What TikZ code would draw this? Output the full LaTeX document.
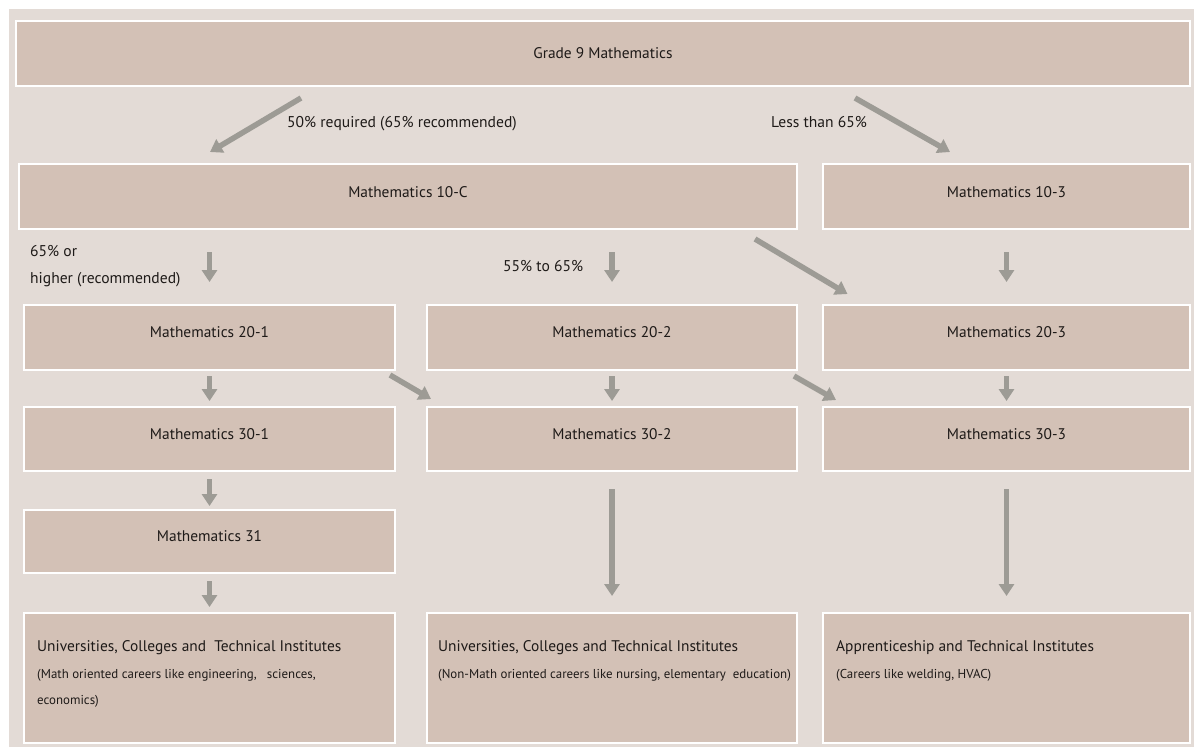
\documentclass[tikz,border=0pt]{standalone}
\usepackage{fontspec}
\setmainfont{PT Sans}
\usetikzlibrary{arrows.meta}
\definecolor{bgc}{HTML}{E3DBD6}
\definecolor{boxc}{HTML}{D3C1B6}
\definecolor{arrc}{HTML}{9D9B95}
\definecolor{txtc}{HTML}{1E1A18}
\begin{document}
\begin{tikzpicture}[x=1pt,y=-1pt,
  box/.style={draw=white,line width=2pt,fill=boxc,inner sep=0pt,
    text height=9pt,text depth=9pt,text=txtc,font=\fontsize{15.4}{17}\selectfont},
  arr/.style={draw=arrc,line width=5.5pt,-{Triangle[width=15pt,length=12pt]}},
  lbl/.style={inner sep=0pt,anchor=base west,text=txtc,font=\fontsize{15.6}{17}\selectfont},
  ttl/.style={inner sep=0pt,anchor=base west,text=txtc,font=\fontsize{15.4}{17}\selectfont},
  sub/.style={inner sep=0pt,anchor=base west,text=txtc,font=\fontsize{12.9}{15}\selectfont}]
\useasboundingbox (0,0) rectangle (1194,747);
\fill[white] (0,0) rectangle (1194,747);
\fill[bgc] (9,9) rectangle (1194,747);
% boxes
\node[box,minimum width=1174pt,minimum height=65pt,text height=13.5pt,text depth=4.5pt] (g9) at (603,53.5) {Grade 9 Mathematics};
\node[box,minimum width=778pt,minimum height=65pt,text height=10pt,text depth=8pt] (c10) at (408,196.5) {Mathematics 10-C};
\node[box,minimum width=367pt,minimum height=65pt,text height=10pt,text depth=8pt] (m103) at (1006.5,196.5) {Mathematics 10-3};
\node[box,minimum width=371pt,minimum height=65pt] (m201) at (209.5,337.5) {Mathematics 20-1};
\node[box,minimum width=370pt,minimum height=65pt] (m202) at (612,337.5) {Mathematics 20-2};
\node[box,minimum width=367pt,minimum height=65pt] (m203) at (1006.5,337.5) {Mathematics 20-3};
\node[box,minimum width=371pt,minimum height=64pt] (m301) at (209.5,439) {Mathematics 30-1};
\node[box,minimum width=370pt,minimum height=64pt] (m302) at (612,439) {Mathematics 30-2};
\node[box,minimum width=367pt,minimum height=64pt] (m303) at (1006.5,439) {Mathematics 30-3};
\node[box,minimum width=371pt,minimum height=63pt] (m31) at (209.5,541.5) {Mathematics 31};
\node[box,minimum width=371pt,minimum height=130pt] (u1) at (209.5,678) {};
\node[box,minimum width=370pt,minimum height=130pt] (u2) at (612,678) {};
\node[box,minimum width=367pt,minimum height=130pt] (u3) at (1006.5,678) {};
% bottom texts
\node[ttl] (u1a) at (37,651) {Universities, Colleges and\ \ Technical Institutes};
\node[sub] (u1b) at (37,678) {(Math oriented careers like engineering,\ \ \ sciences,};
\node[sub] (u1c) at (37,704) {economics)};
\node[ttl] (u2a) at (438,651) {Universities, Colleges and Technical Institutes};
\node[sub] (u2b) at (438,678) {(Non-Math oriented careers like nursing, elementary\ \ education)};
\node[ttl] (u3a) at (836,651) {Apprenticeship and Technical Institutes};
\node[sub] (u3b) at (836,678) {(Careers like welding, HVAC)};
% labels
\node[lbl] (l1) at (287,127) {50\% required (65\% recommended)};
\node[lbl] (l2) at (771,127) {Less than 65\%};
\node[lbl] (l3) at (30,256) {65\% or};
\node[lbl] (l4) at (30,283) {higher (recommended)};
\node[lbl] (l5) at (503,271) {55\% to 65\%};
% arrows
\draw[arr] ([xshift=-302pt,yshift=-11pt]g9.south) -- ([xshift=-198pt,yshift=11pt]c10.north);
\draw[arr] ([xshift=252pt,yshift=-11pt]g9.south) -- ([xshift=-56.5pt,yshift=11pt]m103.north);
\draw[arr,shorten <=22pt,shorten >=22pt] (c10.south -| m201.north) -- (m201.north);
\draw[arr,shorten <=22pt,shorten >=22pt] (c10.south -| m202.north) -- (m202.north);
\draw[arr,shorten <=22pt,shorten >=22pt] (m103.south) -- (m203.north);
\draw[arr] ([xshift=347pt,yshift=-9pt]c10.south) -- ([xshift=-159pt,yshift=10pt]m203.north);
\draw[arr,shorten <=5pt,shorten >=5pt] (m201.south) -- (m301.north);
\draw[arr,shorten <=5pt,shorten >=5pt] (m202.south) -- (m302.north);
\draw[arr,shorten <=5pt,shorten >=5pt] (m203.south) -- (m303.north);
\draw[arr] ([xshift=-6pt,yshift=-4pt]m201.south east) -- ([xshift=5pt,yshift=7pt]m302.north west);
\draw[arr] ([xshift=-4pt,yshift=-5pt]m202.south east) -- ([xshift=14pt,yshift=6pt]m303.north west);
\draw[arr,shorten <=7pt,shorten >=3pt] (m301.south) -- (m31.north);
\draw[arr,shorten <=7pt,shorten >=5pt] (m31.south) -- (u1.north);
\draw[arr,shorten <=17pt,shorten >=16pt] (m302.south) -- (u2.north);
\draw[arr,shorten <=17pt,shorten >=16pt] (m303.south) -- (u3.north);
\end{tikzpicture}
\end{document}
